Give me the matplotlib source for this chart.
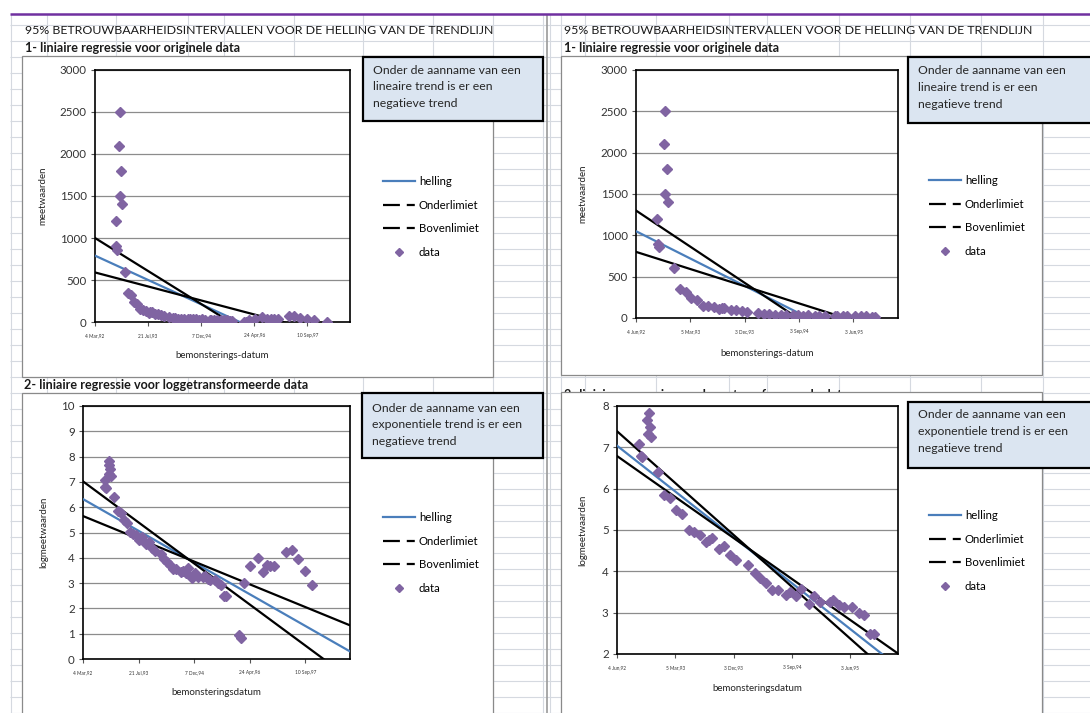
import numpy as np
import matplotlib
matplotlib.use("Agg")
import matplotlib.pyplot as plt
from matplotlib.lines import Line2D
from matplotlib.patches import Rectangle

plt.rcParams["font.family"] = ["Lato", "DejaVu Sans"]

W, H = 1090, 713

# meetgegevens: dagen sinds 4 maart 1992 en de gemeten waarde
dagen = [196, 203, 208, 232, 236, 240, 246, 252, 284, 314, 342, 370, 398, 428, 455, 483,
         509, 525, 537, 569, 595, 623, 652, 705, 737, 761, 791, 819, 847, 884, 905, 933,
         956, 991, 1014, 1042, 1092, 1103, 1131, 1155, 1194, 1225, 1249, 1277, 1296,
         1410, 1432, 1462, 1516, 1583, 1631, 1667, 1697, 1733, 1842, 1893, 1948, 2014, 2075, 2205]
meetwaarden = [1200, 900, 860, 2100, 1500, 2500, 1800, 1400, 600, 350, 320, 240, 220, 150, 140, 132,
               110, 117, 122, 93, 100, 81, 71, 63, 52, 46, 41, 35, 35, 31, 33, 30,
               36, 25, 30, 26, 26, 27, 24, 23, 23, 20, 19, 12, 12,
               2.6, 2.3, 20, 40, 54, 31, 41, 40, 40, 70, 73, 52, 32, 19, 0]

# trendlijnen: (waarde bij begin van de as, verandering per dag)
# volgorde: helling, Onderlimiet, Bovenlimiet
lijnen_orig_lang = [(790, -0.575), (1000, -0.78), (590, -0.331)]
lijnen_log_lang = [(6.32, -0.002488), (7.02, -0.00322), (5.65, -0.001785)]
lijnen_orig_kort = [(1050, -1.21), (1300, -1.60), (800, -0.76)]
lijnen_log_kort = [(7.04, -0.004055), (7.39, -0.004587), (6.79, -0.003626)]

ticks_lang = ["1992-03-04", "1993-07-21", "1994-12-07", "1996-04-24", "1997-09-10"]
labels_lang = ["4 Mar,92", "21 Jul,93", "7 Dec,94", "24 Apr,96", "10 Sep,97"]
ticks_kort = ["1992-06-04", "1993-03-05", "1993-12-03", "1994-09-03", "1995-06-03"]
labels_kort = ["4 Jun,92", "5 Mar,93", "3 Dec,93", "3 Sep,94", "3 Jun,95"]

legend_namen = ["helling", "Onderlimiet", "Bovenlimiet", "data"]
titel = "95% BETROUWBAARHEIDSINTERVALLEN VOOR DE HELLING VAN DE TRENDLIJN"
sub1 = "1- liniaire regressie voor originele data"
sub2 = "2- liniaire regressie voor loggetransformeerde data"
tekst_lin = ["Onder de aanname van een", "lineaire trend is er een", "negatieve trend"]
tekst_exp = ["Onder de aanname van een", "exponentiele trend is er een", "negatieve trend"]

blauw = "#4a7ebb"
paars = "#8064a2"
start = np.datetime64("1992-03-04")
dagen_arr = np.array(dagen)
waarden_arr = np.array(meetwaarden, dtype=float)


def datum(d):
    return start + np.asarray(d).astype("timedelta64[D]")


def px_rect(x0, y0, x1, y1):
    return [x0 / W, 1 - y1 / H, (x1 - x0) / W, (y1 - y0) / H]


fig = plt.figure(figsize=(W / 100, H / 100), dpi=100)

# spreadsheet achtergrond
bg = fig.add_axes([0, 0, 1, 1])
bg.set_xlim(0, W)
bg.set_ylim(H, 0)
bg.axis("off")
rows = np.arange(24.5, H, 16)
bg.hlines(rows, 10, W, color="#d5d9e0", lw=0.8, zorder=1)
kolommen = [11, 47, 116, 188, 224, 294, 363, 433, 493, 543,
            550, 561, 585, 656, 729, 767, 839, 910, 981, 1043]
bg.vlines(kolommen, 14, H, color="#d5d9e0", lw=0.8, zorder=1)
bg.vlines([547], 14, H, color="#9a9a9a", lw=1.2, zorder=1)
bg.hlines([14], 10, W, color="#7030a0", lw=1.8, zorder=2)

for x in (25, 564):
    bg.text(x, 31, titel, va="center", fontsize=8.9, color="#1a1a1a", zorder=3)
    bg.text(x, 47.5, sub1, va="center", fontsize=9.1, weight="bold", color="#1a1a1a", zorder=3)
bg.text(24, 385, sub2, va="center", fontsize=9.1, weight="bold", color="#1a1a1a", zorder=3)
# rechts valt deze kop grotendeels achter de grafiek
bg.text(564, 395, sub2, va="center", fontsize=9.1, weight="bold", color="#1a1a1a", zorder=2)

for (x0, y0, x1, y1) in [(22, 56, 493, 377), (22, 393, 493, 720),
                         (561, 56, 1042, 375), (561, 392, 1042, 720)]:
    bg.add_patch(Rectangle((x0, y0), x1 - x0, y1 - y0, facecolor="white",
                           edgecolor="#8a8a8a", lw=0.9, zorder=4))

panelen = [
    dict(rect=(95, 70, 350, 322), log=False, dag0=0, dag1=2420, ticks=ticks_lang,
         labels=labels_lang, ylim=(0, 3000), ystep=500, ylabel="meetwaarden",
         xlabel="bemonsterings-datum", lijnen=lijnen_orig_lang, legend=(383, 183),
         ylab_x=47, xlab_y=351),
    dict(rect=(83, 406, 350, 659), log=True, dag0=0, dag1=2420, ticks=ticks_lang,
         labels=labels_lang, ylim=(0, 10), ystep=1, ylabel="logmeetwaarden",
         xlabel="bemonsteringsdatum", lijnen=lijnen_log_lang, legend=(383, 519),
         ylab_x=48, xlab_y=688),
    dict(rect=(636, 70, 898, 318), log=False, dag0=92, dag1=1410, ticks=ticks_kort,
         labels=labels_kort, ylim=(0, 3000), ystep=500, ylabel="meetwaarden",
         xlabel="bemonsterings-datum", lijnen=lijnen_orig_kort, legend=(929, 182),
         ylab_x=587, xlab_y=349),
    dict(rect=(617, 406, 898, 654), log=True, dag0=92, dag1=1410, ticks=ticks_kort,
         labels=labels_kort, ylim=(2, 8), ystep=1, ylabel="logmeetwaarden",
         xlabel="bemonsteringsdatum", lijnen=lijnen_log_kort, legend=(929, 517),
         ylab_x=587, xlab_y=684),
]

for p in panelen:
    x0, y0, x1, y1 = p["rect"]
    ax = fig.add_axes(px_rect(*p["rect"]))
    ax.set_facecolor("white")
    mask = dagen_arr < p["dag1"] - 5
    if p["log"]:
        mask &= waarden_arr > 0
        y = np.log(waarden_arr[mask])
    else:
        y = waarden_arr[mask]

    xs = np.array([p["dag0"], p["dag1"]])
    for (a, b), kleur in zip(p["lijnen"], [blauw, "black", "black"]):
        ax.plot(datum(xs), a + b * (xs - p["dag0"]), color=kleur, lw=1.6, zorder=3)
    ax.plot(datum(dagen_arr[mask]), y, ls="none", marker="D", ms=4.9,
            color=paars, mec=paars, zorder=4)

    ax.set_xlim(datum(p["dag0"]), datum(p["dag1"]))
    ax.set_ylim(*p["ylim"])
    ax.set_yticks(np.arange(p["ylim"][0], p["ylim"][1] + 0.1, p["ystep"]))
    ax.set_xticks(np.array(p["ticks"], dtype="datetime64[D]"))
    ax.set_xticklabels(p["labels"])
    ax.yaxis.grid(True, color="#8c8c8c", lw=0.9)
    ax.set_axisbelow(True)
    for s in ax.spines.values():
        s.set_color("black")
        s.set_linewidth(1.2)
    ax.tick_params(axis="y", length=3, width=0.8, color="#555555", labelsize=8.3,
                   labelcolor="#333333", pad=3)
    ax.tick_params(axis="x", length=3, width=0.8, color="#555555", labelsize=3.4,
                   labelcolor="#333333", pad=5)
    ax.set_ylabel(p["ylabel"], fontsize=7, color="#222222")
    ax.yaxis.set_label_coords((p["ylab_x"] - x0) / (x1 - x0), 0.5)
    ax.set_xlabel(p["xlabel"], fontsize=7, color="#222222")
    ax.xaxis.set_label_coords(0.5, (y1 - p["xlab_y"]) / (y1 - y0))

    handles = [Line2D([], [], color=blauw, lw=1.6),
               Line2D([], [], color="black", lw=1.6, dashes=(7.6, 3.1, 3.6, 40)),
               Line2D([], [], color="black", lw=1.6, dashes=(7.6, 3.1, 3.6, 40)),
               Line2D([], [], ls="none", marker="D", ms=4, color=paars)]
    lx, ly = p["legend"]
    fig.legend(handles, legend_namen, loc="upper left",
               bbox_to_anchor=(lx / W, 1 - (ly - 7) / H), frameon=False, fontsize=8.2,
               handlelength=2.8, handletextpad=0.35, labelspacing=1.1,
               borderpad=0, borderaxespad=0, numpoints=1)

# tekstvakken
ov = fig.add_axes([0, 0, 1, 1])
ov.set_xlim(0, W)
ov.set_ylim(H, 0)
ov.axis("off")
for (bx0, by0, bx1, by1), regels, ty in [((363, 57, 543, 121), tekst_lin, 70),
                                         ((908, 57, 1095, 123), tekst_lin, 71),
                                         ((362, 393, 543, 458), tekst_exp, 408),
                                         ((908, 402, 1095, 468), tekst_exp, 415)]:
    ov.add_patch(Rectangle((bx0, by0), bx1 - bx0, by1 - by0, facecolor="#dbe5f1",
                           edgecolor="black", lw=1.6))
    for i, regel in enumerate(regels):
        ov.text(bx0 + 10, ty + i * 16.8, regel, va="center", fontsize=8.8, color="#262626")

fig.savefig("out.png", dpi=100)
